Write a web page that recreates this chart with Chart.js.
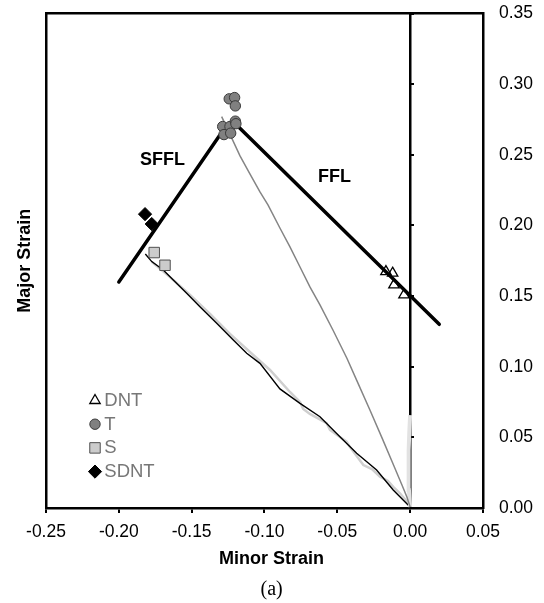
<!DOCTYPE html>
<html>
<head>
<meta charset="utf-8">
<script src="https://cdn.jsdelivr.net/npm/chart.js@4.4.1/dist/chart.umd.min.js"></script>
<style>
  html, body { margin: 0; padding: 0; background: #fff; }
  #wrap { width: 544px; height: 603px; }
</style>
</head>
<body>
<div id="wrap"><canvas id="fld"></canvas></div>
<script>
// Tick values
const xTicks = [-0.25, -0.20, -0.15, -0.10, -0.05, 0.00, 0.05];
const yTicks = [0.00, 0.05, 0.10, 0.15, 0.20, 0.25, 0.30, 0.35];

// Failure points
const dntX = [-0.0166, -0.0120, -0.0111, -0.0042];
const dntY = [0.1673, 0.1662, 0.1579, 0.1508];
const tX = [-0.1242, -0.1205, -0.1200, -0.1287, -0.1237, -0.1200, -0.1278, -0.1232, -0.1196];
const tY = [0.2896, 0.2905, 0.2846, 0.2700, 0.2700, 0.2738, 0.2643, 0.2653, 0.2720];
const sX = [-0.1757, -0.1683];
const sY = [0.1808, 0.1718];
const sdntX = [-0.1820, -0.1774];
const sdntY = [0.2080, 0.2010];

// Forming limit lines
const fflX = [-0.120, 0.020];
const fflY = [0.272, 0.130];
const sfflX = [-0.200, -0.1306];
const sfflY = [0.160, 0.264];

// Strain paths
const tPathX = [-0.1294, -0.1251, -0.1168, -0.1100, -0.1031, -0.0976, -0.0894, -0.0825, -0.0756, -0.0688,
                -0.0619, -0.0530, -0.0434, -0.0365, -0.0276, -0.0193, -0.0111, -0.0056, -0.0022, 0.0000];
const tPathY = [0.2770, 0.2676, 0.2492, 0.2365, 0.2237, 0.2145, 0.1982, 0.1848, 0.1706, 0.1565,
                0.1437, 0.1260, 0.1060, 0.0900, 0.0694, 0.0496, 0.0297, 0.0163, 0.0078, 0.0007];
const sPathX = [-0.1818, -0.1774, -0.1695, -0.1626, -0.1534, -0.1443, -0.1328, -0.1214, -0.1122,
                -0.1031, -0.0894, -0.0756, -0.0619, -0.0482, -0.0367, -0.0230, -0.0116, 0.0000];
const sPathY = [0.1798, 0.1744, 0.1685, 0.1614, 0.1520, 0.1425, 0.1308, 0.1189, 0.1095,
                0.1024, 0.0843, 0.0741, 0.0646, 0.0505, 0.0387, 0.0269, 0.0127, 0.0007];
const s2PathX = [-0.1774, -0.1649, -0.1511, -0.1374, -0.1237, -0.1100, -0.0962, -0.0825, -0.0756, -0.0734, -0.0688,
                 -0.0573, -0.0550, -0.0436, -0.0413, -0.0321, -0.0262, -0.0207, -0.0152, -0.0116, -0.0070, -0.0001];
const s2PathY = [0.1742, 0.1635, 0.1508, 0.1374, 0.1232, 0.1104, 0.0977, 0.0821, 0.0750, 0.0701, 0.0666,
                 0.0600, 0.0552, 0.0469, 0.0432, 0.0304, 0.0276, 0.0222, 0.0191, 0.0149, 0.0104, 0.0021];
const dPathX = [0.0000, -0.0008, -0.0012, -0.0008, -0.0005, 0.0000];
const dPathY = [0.0007, 0.0127, 0.0269, 0.0410, 0.0552, 0.0658];

// Line labels
const noteText = ['SFFL', 'FFL'];
const noteX = [-0.170, -0.052];
const noteY = [0.246, 0.234];

const pts = (xs, ys) => xs.map((v, i) => ({ x: v, y: ys[i] }));
const fmt = v => Number(v).toFixed(2);

Chart.defaults.font.family = '"Liberation Sans", Arial, sans-serif';
Chart.defaults.color = '#000';

// Line labels and the in-plot legend.
const notesPlugin = {
    id: 'notes',
    afterDatasetsDraw(chart) {
        const { ctx, chartArea, scales: { x, y } } = chart;
        ctx.save();
        ctx.font = 'bold 18px "Liberation Sans", Arial, sans-serif';
        ctx.fillStyle = '#000';
        ctx.textAlign = 'center';
        ctx.textBaseline = 'middle';
        noteText.forEach((t, i) => ctx.fillText(t, x.getPixelForValue(noteX[i]), y.getPixelForValue(noteY[i])));

        const items = chart.data.datasets.filter(d => d.inLegend);
        items.forEach((d, i) => {
            const cx = chartArea.left + 49;
            const cy = chartArea.top + 387 + i * 23.7;
            ctx.save();
            ctx.fillStyle = d.backgroundColor;
            ctx.strokeStyle = d.borderColor;
            ctx.lineWidth = d.borderWidth;
            Chart.helpers.drawPoint(ctx, { pointStyle: d.pointStyle, radius: d.pointRadius, borderWidth: d.borderWidth, rotation: 0 }, cx, cy);
            ctx.restore();
            ctx.font = '18.5px "Liberation Sans", Arial, sans-serif';
            ctx.fillStyle = '#777';
            ctx.textAlign = 'left';
            ctx.fillText(d.label, cx + 9.3, cy + 0.5);
        });
        ctx.restore();
    },
};

const pathLine = (data, color, width, order) => ({
    data, showLine: true, borderColor: color, borderWidth: width, pointRadius: 0,
    fill: false, tension: 0, order,
});

new Chart(document.getElementById('fld'), {
    type: 'scatter',
    data: {
        datasets: [
            { label: 'DNT', inLegend: true, data: pts(dntX, dntY), pointStyle: 'triangle', pointRadius: 6,
              backgroundColor: 'rgba(255,255,255,0)', borderColor: '#000', borderWidth: 1.3, order: 1 },
            { label: 'T', inLegend: true, data: pts(tX, tY), pointStyle: 'circle', pointRadius: 5.2,
              backgroundColor: '#808080', borderColor: '#3a3a3a', borderWidth: 1, order: 2 },
            { label: 'S', inLegend: true, data: pts(sX, sY), pointStyle: 'rect', pointRadius: 7.4,
              backgroundColor: '#cccccc', borderColor: '#505050', borderWidth: 1, order: 3 },
            { label: 'SDNT', inLegend: true, data: pts(sdntX, sdntY), pointStyle: 'rectRot', pointRadius: 6.6,
              backgroundColor: '#000', borderColor: '#000', borderWidth: 1, order: 4 },
            Object.assign(pathLine(pts(fflX, fflY), '#000', 3.5, 10), { borderCapStyle: 'round' }),
            Object.assign(pathLine(pts(sfflX, sfflY), '#000', 3.5, 11), { borderCapStyle: 'round' }),
            pathLine(pts(tPathX, tPathY), '#858585', 1.5, 12),
            pathLine(pts(dPathX, dPathY), '#e2e2e2', 4, 13),
            pathLine(pts(sPathX, sPathY), '#000', 1.4, 14),
            pathLine(pts(s2PathX, s2PathY), '#cfcfcf', 2.5, 15),
        ],
    },
    options: {
        responsive: true,
        maintainAspectRatio: false,
        animation: false,
        events: [],
        layout: { padding: { left: 10.2, right: 11, top: 13.5, bottom: 0 } },
        plugins: {
            legend: { display: false },
            tooltip: { enabled: false },
            subtitle: {
                display: true, position: 'bottom', text: 'Minor Strain', color: '#000',
                font: { size: 18, weight: 'bold', lineHeight: 0.9 }, padding: { top: 0, bottom: 0 },
            },
            title: {
                display: true, position: 'bottom', text: '(a)', color: '#000',
                font: { family: '"Liberation Serif", "Times New Roman", serif', size: 20, weight: 'normal' },
                padding: { top: 10.8, bottom: 1 },
            },
        },
        scales: {
            x: {
                type: 'linear', position: 'bottom', min: -0.25, max: 0.05,
                afterBuildTicks: s => { s.ticks = xTicks.map(v => ({ value: v })); },
                ticks: { callback: fmt, font: { size: 17.5 }, color: '#000', padding: 8.5, maxRotation: 0, autoSkip: false },
                grid: { drawOnChartArea: false, drawTicks: true, tickLength: 5, color: '#000', lineWidth: 2 },
                border: { display: true, color: '#000', width: 2.5 },
            },
            xt: {
                type: 'linear', position: 'top', min: -0.25, max: 0.05,
                ticks: { display: false },
                grid: { display: false, drawTicks: false },
                border: { display: true, color: '#000', width: 2.5 },
            },
            y: {
                type: 'linear', position: 'right', min: 0, max: 0.35,
                afterBuildTicks: s => { s.ticks = yTicks.map(v => ({ value: v })); },
                ticks: { callback: fmt, font: { size: 17.5 }, color: '#000', padding: 0, autoSkip: false },
                grid: { display: false, drawTicks: true, tickLength: 16 },
                border: { display: true, color: '#000', width: 2.5 },
            },
            yl: {
                type: 'linear', position: 'left', min: 0, max: 0.35,
                ticks: { display: false },
                grid: { display: false, drawTicks: false },
                border: { display: true, color: '#000', width: 2.5 },
                title: {
                    display: true, text: 'Major Strain', color: '#000',
                    font: { size: 18, weight: 'bold' }, padding: { top: 4, bottom: 10.2 },
                },
            },
            yz: {
                type: 'linear', position: { x: 0 }, min: 0, max: 0.35,
                afterBuildTicks: s => { s.ticks = yTicks.map(v => ({ value: v })); },
                ticks: { display: false },
                grid: { drawOnChartArea: false, drawTicks: true, tickLength: -5, color: '#000', lineWidth: 2 },
                border: { display: true, color: '#000', width: 2.5 },
            },
        },
    },
    plugins: [notesPlugin],
});
</script>
</body>
</html>
